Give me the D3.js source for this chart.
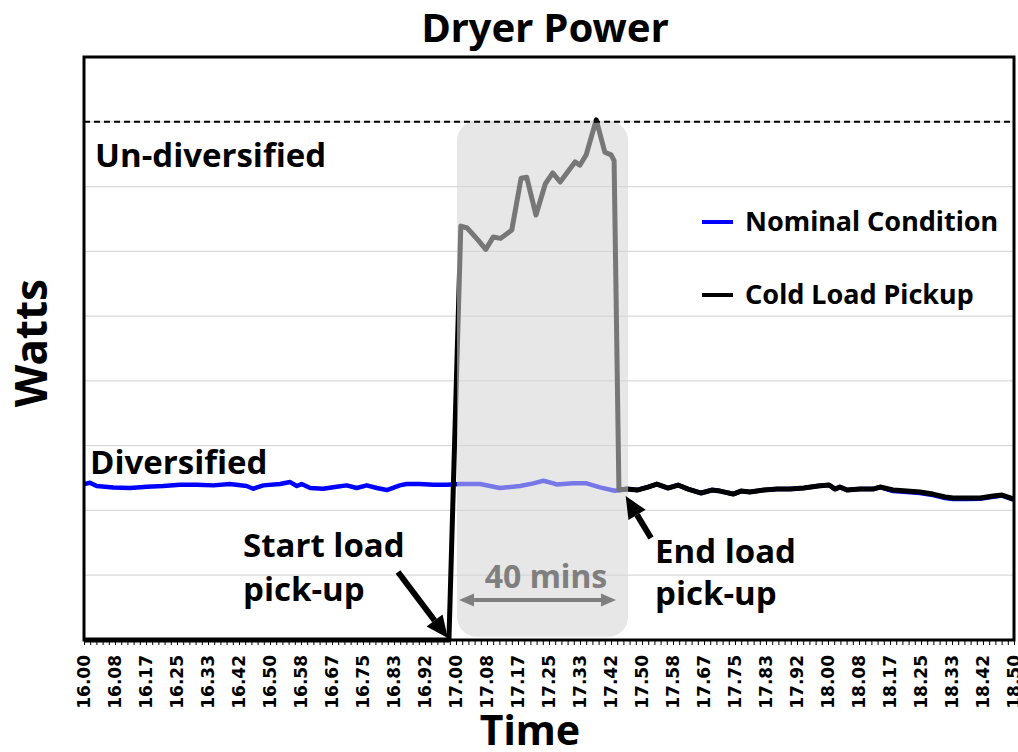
<!DOCTYPE html>
<html>
<head>
  <meta charset="utf-8"/>
  <title>Dryer Power</title>
  <script src="https://d3js.org/d3.v7.min.js"></script>
  <style>
    html, body { margin: 0; padding: 0; background: #fff; overflow: hidden; }
    svg { display: block; }
    .calibri { font-family: "Open Sans", sans-serif; font-weight: bold; }
    .inspira { font-family: "Noto Sans", sans-serif; font-weight: bold; }
    .tick-label { font-family: "DejaVu Sans", sans-serif; font-weight: bold; font-size: 17px; }
  </style>
</head>
<body>
<div id="chart"></div>
<script>
  // time in decimal hours, power in watts
  const nominal = [
    [16.000, 2407], [16.016, 2428], [16.034, 2377], [16.079, 2356], [16.124, 2346],
    [16.169, 2366], [16.213, 2377], [16.258, 2397], [16.303, 2397], [16.348, 2387],
    [16.392, 2407], [16.437, 2377], [16.455, 2335], [16.482, 2387], [16.527, 2407],
    [16.554, 2438], [16.572, 2377], [16.585, 2407], [16.608, 2346], [16.643, 2335],
    [16.679, 2366], [16.706, 2387], [16.733, 2346], [16.760, 2387], [16.787, 2346],
    [16.814, 2315], [16.849, 2387], [16.867, 2407], [16.903, 2407], [16.939, 2397],
    [16.975, 2397], [17.011, 2407], [17.065, 2407], [17.118, 2346], [17.172, 2377],
    [17.208, 2418], [17.235, 2459], [17.262, 2418], [17.270, 2402], [17.315, 2418],
    [17.351, 2418], [17.387, 2356], [17.427, 2304], [17.460, 2330], [17.487, 2315],
    [17.516, 2361], [17.540, 2407], [17.570, 2346], [17.597, 2392], [17.624, 2330],
    [17.659, 2269], [17.688, 2315], [17.710, 2299], [17.745, 2253], [17.766, 2299],
    [17.790, 2284], [17.828, 2315], [17.863, 2330], [17.898, 2330], [17.935, 2346],
    [17.973, 2377], [18.003, 2392], [18.019, 2330], [18.032, 2361], [18.051, 2315],
    [18.086, 2330], [18.121, 2330], [18.140, 2361], [18.175, 2300], [18.212, 2284],
    [18.247, 2268], [18.282, 2238], [18.315, 2192], [18.336, 2176], [18.374, 2176],
    [18.409, 2180], [18.444, 2210], [18.468, 2230], [18.500, 2165]
  ];

  const coldLoad = [
    [16.000, 0], [16.981, 0], [17.013, 6390], [17.030, 6360], [17.060, 6170],
    [17.080, 6030], [17.100, 6220], [17.120, 6200], [17.150, 6330], [17.175, 7130],
    [17.190, 7145], [17.215, 6560], [17.240, 7040], [17.260, 7210], [17.280, 7070],
    [17.320, 7380], [17.333, 7330], [17.350, 7490], [17.377, 8030], [17.400, 7530],
    [17.417, 7490], [17.425, 7400], [17.438, 2315], [17.460, 2330], [17.487, 2315],
    [17.516, 2361], [17.540, 2407], [17.570, 2346], [17.597, 2392], [17.624, 2330],
    [17.659, 2269], [17.688, 2315], [17.710, 2299], [17.745, 2253], [17.766, 2299],
    [17.790, 2284], [17.828, 2315], [17.863, 2330], [17.898, 2330], [17.935, 2346],
    [17.973, 2377], [18.003, 2392], [18.019, 2330], [18.032, 2361], [18.051, 2315],
    [18.086, 2330], [18.121, 2330], [18.140, 2361], [18.175, 2315], [18.212, 2299],
    [18.247, 2284], [18.282, 2253], [18.315, 2207], [18.336, 2191], [18.374, 2191],
    [18.409, 2191], [18.444, 2222], [18.468, 2238], [18.500, 2176]
  ];

  const timeLabels = [
    "16.00", "16.08", "16.17", "16.25", "16.33", "16.42", "16.50", "16.58",
    "16.67", "16.75", "16.83", "16.92", "17.00", "17.08", "17.17", "17.25",
    "17.33", "17.42", "17.50", "17.58", "17.67", "17.75", "17.83", "17.92",
    "18.00", "18.08", "18.17", "18.25", "18.33", "18.42", "18.50"
  ];

  const gridWatts = [1000, 2000, 3000, 4000, 5000, 6000, 7000, 8000];
  const undiversifiedWatts = 8000;
  const pickupWindow = [17.0, 17.46];   // shaded 40 min band

  const legendItems = [
    { label: "Nominal Condition", color: "#0000ff" },
    { label: "Cold Load Pickup", color: "#000000" }
  ];

  const width = 1018, height = 752;
  const margin = { top: 57, right: 4, bottom: 112, left: 84 };

  const svg = d3.select("#chart").append("svg")
    .attr("width", width)
    .attr("height", height);

  const x = d3.scaleLinear()
    .domain([16, 18.5])
    .range([margin.left, width - margin.right]);
  const y = d3.scaleLinear()
    .domain([0, 9000])
    .range([height - margin.bottom, margin.top]);

  // grid
  svg.append("g")
    .selectAll("line")
    .data(gridWatts)
    .enter().append("line")
    .attr("x1", x(16)).attr("x2", x(18.5))
    .attr("y1", d => y(d)).attr("y2", d => y(d))
    .attr("stroke", "#d9d9d9")
    .attr("stroke-width", 1.3);

  const line = d3.line()
    .x(d => x(d[0]))
    .y(d => y(d[1]));

  svg.append("path")
    .datum(nominal)
    .attr("d", line)
    .attr("fill", "none")
    .attr("stroke", "#0000ff")
    .attr("stroke-width", 4.5)
    .attr("stroke-linejoin", "round");

  svg.append("path")
    .datum(coldLoad)
    .attr("d", line)
    .attr("fill", "none")
    .attr("stroke", "#000")
    .attr("stroke-width", 5)
    .attr("stroke-linejoin", "round");

  // translucent pickup window on top of lines
  svg.append("rect")
    .attr("x", x(pickupWindow[0]) + 1)
    .attr("y", y(undiversifiedWatts) - 1)
    .attr("width", x(pickupWindow[1]) - x(pickupWindow[0]))
    .attr("height", y(50) - y(undiversifiedWatts) + 1)
    .attr("rx", 20)
    .attr("fill", "#d5d5d5")
    .attr("fill-opacity", 0.56);

  // un-diversified level
  svg.append("line")
    .attr("x1", x(16)).attr("x2", x(18.5))
    .attr("y1", y(undiversifiedWatts)).attr("y2", y(undiversifiedWatts))
    .attr("stroke", "#000")
    .attr("stroke-width", 2)
    .attr("stroke-dasharray", "6,4");

  // x axis: minor tick each minute
  const minuteTicks = d3.range(0, 151).map(m => 16 + m / 60);
  const xAxis = svg.append("g")
    .attr("transform", `translate(0,${y(0)})`)
    .call(d3.axisBottom(x).tickValues(minuteTicks).tickSize(5).tickFormat(""));
  xAxis.select(".domain").remove();
  xAxis.selectAll(".tick line").attr("stroke", "#000").attr("stroke-width", 1);

  svg.append("g")
    .selectAll("text")
    .data(timeLabels)
    .enter().append("text")
    .attr("class", "tick-label")
    .attr("transform", (d, i) => `translate(${x(16 + i / 12)},655) rotate(-90)`)
    .attr("text-anchor", "end")
    .attr("dy", "0.36em")
    .text(d => d);

  // plot frame
  svg.append("rect")
    .attr("x", x(16)).attr("y", y(9000))
    .attr("width", x(18.5) - x(16))
    .attr("height", y(0) - y(9000))
    .attr("fill", "none")
    .attr("stroke", "#000")
    .attr("stroke-width", 3);

  // titles
  svg.append("text")
    .attr("class", "inspira")
    .attr("x", 545).attr("y", 42)
    .attr("text-anchor", "middle")
    .style("font-size", "40px")
    .text("Dryer Power");

  svg.append("text")
    .attr("class", "inspira")
    .attr("transform", "translate(47,343) rotate(-90)")
    .attr("text-anchor", "middle")
    .style("font-size", "44px")
    .text("Watts");

  svg.append("text")
    .attr("class", "inspira")
    .attr("x", 530).attr("y", 745)
    .attr("text-anchor", "middle")
    .style("font-size", "41px")
    .text("Time");

  // level labels
  svg.append("text")
    .attr("class", "calibri")
    .attr("x", 95).attr("y", 167)
    .style("font-size", "33px")
    .text("Un-diversified");

  svg.append("text")
    .attr("class", "calibri")
    .attr("x", 90).attr("y", 474)
    .style("font-size", "33px")
    .text("Diversified");

  // annotations
  function arrow(x1, y1, x2, y2, color, w, headLen, headW) {
    const a = Math.atan2(y2 - y1, x2 - x1);
    const bx = x2 - headLen * Math.cos(a), by = y2 - headLen * Math.sin(a);
    svg.append("line")
      .attr("x1", x1).attr("y1", y1).attr("x2", bx).attr("y2", by)
      .attr("stroke", color).attr("stroke-width", w);
    const px = -Math.sin(a) * headW / 2, py = Math.cos(a) * headW / 2;
    svg.append("path")
      .attr("d", `M${x2},${y2}L${bx + px},${by + py}L${bx - px},${by - py}Z`)
      .attr("fill", color);
  }

  function twoLines(x0, y0, gap, lines) {
    lines.forEach((t, i) => {
      svg.append("text")
        .attr("class", "calibri")
        .attr("x", x0).attr("y", y0 + i * gap)
        .style("font-size", "33px")
        .text(t);
    });
  }

  twoLines(243, 557, 44, ["Start load", "pick-up"]);
  arrow(398, 572, x(16.978), y(0) - 2, "#000", 6, 22, 20);

  twoLines(655, 563, 42, ["End load", "pick-up"]);
  arrow(651, 538, x(17.44) + 6, y(2300) + 5, "#000", 6, 22, 20);

  // 40 mins span
  svg.append("text")
    .attr("class", "inspira")
    .attr("x", 546).attr("y", 588)
    .attr("text-anchor", "middle")
    .attr("fill", "#7f7f7f")
    .style("font-size", "32px")
    .text("40 mins");
  arrow(530, 600, 616, 600, "#7f7f7f", 4, 15, 13);
  arrow(530, 600, 459, 600, "#7f7f7f", 4, 15, 13);

  // legend
  const legend = svg.append("g")
    .selectAll("g")
    .data(legendItems)
    .enter().append("g")
    .attr("transform", (d, i) => `translate(702,${222 + i * 73})`);
  legend.append("line")
    .attr("x1", 0).attr("x2", 31)
    .attr("stroke", d => d.color)
    .attr("stroke-width", 4);
  legend.append("text")
    .attr("class", "inspira")
    .attr("x", 43).attr("y", 9)
    .style("font-size", "27px")
    .text(d => d.label);
</script>
</body>
</html>
